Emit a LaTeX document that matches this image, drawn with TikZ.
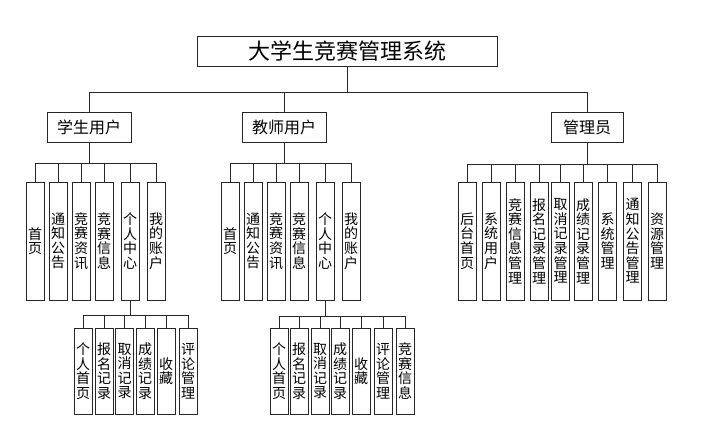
\documentclass[tikz,border=0pt]{standalone}
\usepackage{fontspec}
\setmainfont{Noto Sans CJK SC}
\begin{document}
\begin{tikzpicture}[x=1pt,y=-1pt,
  box/.style={draw=black!85,line width=0.9pt,inner sep=0pt,align=center},
  rootbox/.style={box,minimum width=300pt,minimum height=30pt,font=\fontsize{22}{24}\selectfont},
  midbox/.style={box,minimum height=30pt,font=\fontsize{16}{18}\selectfont},
  leafbox/.style={box,minimum width=18pt,minimum height=118pt,font=\fontsize{14}{14.6}\selectfont},
  subbox/.style={box,minimum width=18pt,minimum height=86pt,font=\fontsize{14}{14.6}\selectfont},
  link/.style={draw=black!85,line width=0.9pt}]
\useasboundingbox (0,0) rectangle (722,433);
\node[rootbox] (root) at (347,51) {大学生竞赛管理系统};
\node[midbox,minimum width=84pt] (stu) at (89,127) {学生用户};
\node[midbox,minimum width=84pt] (tea) at (284,127) {教师用户};
\node[midbox,minimum width=72pt] (adm) at (587,127) {管理员};
\foreach \c in {stu,tea,adm} \draw[link] (root.south) -- ++(0,26) -| (\c.north);
% student leaves
\node[leafbox] (s1) at (35,241) {首\\页};
\node[leafbox] (s2) at (58,241) {通\\知\\公\\告};
\node[leafbox] (s3) at (81,241) {竞\\赛\\资\\讯};
\node[leafbox] (s4) at (104,241) {竞\\赛\\信\\息};
\node[leafbox] (s5) at (130,241) {个\\人\\中\\心};
\node[leafbox] (s6) at (156,241) {我\\的\\账\\户};
\foreach \c in {s1,s2,s3,s4,s5,s6} \draw[link] (stu.south) -- ++(0,21) -| (\c.north);
% teacher leaves
\node[leafbox] (t1) at (230,241) {首\\页};
\node[leafbox] (t2) at (253,241) {通\\知\\公\\告};
\node[leafbox] (t3) at (276,241) {竞\\赛\\资\\讯};
\node[leafbox] (t4) at (299,241) {竞\\赛\\信\\息};
\node[leafbox] (t5) at (325,241) {个\\人\\中\\心};
\node[leafbox] (t6) at (351,241) {我\\的\\账\\户};
\foreach \c in {t1,t2,t3,t4,t5,t6} \draw[link] (tea.south) -- ++(0,21) -| (\c.north);
% admin leaves
\node[leafbox] (a1) at (467,241) {后\\台\\首\\页};
\node[leafbox] (a2) at (491,241) {系\\统\\用\\户};
\node[leafbox] (a3) at (515,241) {竞\\赛\\信\\息\\管\\理};
\node[leafbox] (a4) at (539,241) {报\\名\\记\\录\\管\\理};
\node[leafbox] (a5) at (560.5,241) {取\\消\\记\\录\\管\\理};
\node[leafbox] (a6) at (583,241) {成\\绩\\记\\录\\管\\理};
\node[leafbox] (a7) at (607.5,241) {系\\统\\管\\理};
\node[leafbox] (a8) at (632.5,241) {通\\知\\公\\告\\管\\理};
\node[leafbox] (a9) at (657,241) {资\\源\\管\\理};
\foreach \c in {a1,a2,a3,a4,a5,a6,a7,a8,a9} \draw[link] (adm.south) -- ++(0,22) -| (\c.north);
% student personal centre
\node[subbox] (sp1) at (83,371) {个\\人\\首\\页};
\node[subbox] (sp2) at (104,371) {报\\名\\记\\录};
\node[subbox] (sp3) at (124.5,371) {取\\消\\记\\录};
\node[subbox] (sp4) at (145,371) {成\\绩\\记\\录};
\node[subbox] (sp5) at (166,371) {收\\藏};
\node[subbox] (sp6) at (188,371) {评\\论\\管\\理};
\foreach \c in {sp1,sp2,sp3,sp4,sp5,sp6} \draw[link] (s5.south) -- ++(0,15) -| (\c.north);
% teacher personal centre
\node[subbox] (tp1) at (279,371) {个\\人\\首\\页};
\node[subbox] (tp2) at (299,371) {报\\名\\记\\录};
\node[subbox] (tp3) at (320,371) {取\\消\\记\\录};
\node[subbox] (tp4) at (340,371) {成\\绩\\记\\录};
\node[subbox] (tp5) at (361,371) {收\\藏};
\node[subbox] (tp6) at (383,371) {评\\论\\管\\理};
\node[subbox] (tp7) at (405,371) {竞\\赛\\信\\息};
\foreach \c in {tp1,tp2,tp3,tp4,tp5,tp6,tp7} \draw[link] (t5.south) -- ++(0,16) -| (\c.north);
\end{tikzpicture}
\end{document}
